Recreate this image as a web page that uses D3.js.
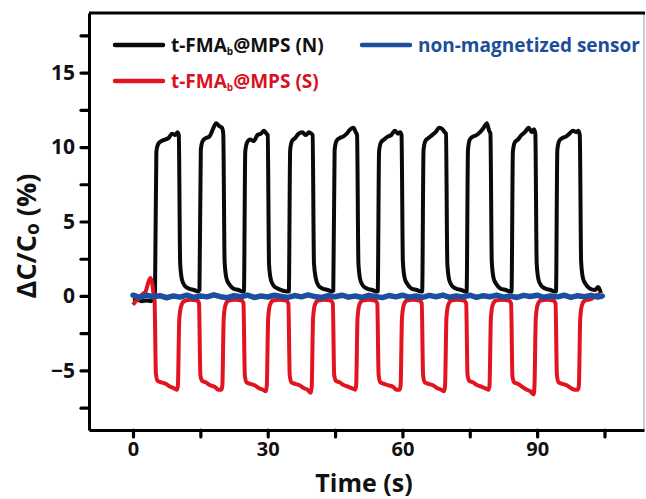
<!DOCTYPE html>
<html>
<head>
<meta charset="utf-8">
<script src="https://cdn.jsdelivr.net/npm/d3@7"></script>
<style>
  html, body { margin: 0; padding: 0; background: #fff; }
  svg { display: block; font-family: "Open Sans", "DejaVu Sans", sans-serif; font-weight: 700; }
</style>
</head>
<body>
<svg id="chart" width="646" height="499"></svg>
<script>
// ΔC/C0 (%) versus time (s) for the three sensors

// t-FMA_b@MPS (N): [time, ΔC/C0]
const seriesN = [
  [0,-0.3],[1,-0.25],[2,-0.35],[3,-0.3],[4,-0.35],[4.6,-0.2],
  [4.9,0.3],[5.2,9.7],[5.6,10.2],[6.3,10.4],[7.1,10.5],[7.9,10.6],[8.7,10.9],[9.4,10.8],[9.9,11.0],[10.2,10.8],[10.5,2.2],[10.9,1.1],[11.5,0.7],[12.4,0.5],[13.6,0.4],[14.5,0.3],
  [14.8,0.4],[15.1,9.8],[15.5,10.4],[16.2,10.6],[17.0,10.7],[17.8,11.2],[18.5,11.6],[19.2,11.4],[19.8,11.3],[20.1,10.9],[20.4,2.3],[20.8,1.2],[21.4,0.8],[22.3,0.5],[23.5,0.4],[24.4,0.3],
  [24.7,0.3],[25.0,9.7],[25.4,10.3],[26.1,10.5],[26.9,10.4],[27.7,10.8],[28.5,10.9],[29.2,11.1],[29.7,10.9],[30.0,10.8],[30.3,2.1],[30.7,1.1],[31.3,0.7],[32.2,0.5],[33.4,0.35],[34.4,0.3],
  [34.7,0.3],[35.0,9.8],[35.4,10.4],[36.1,10.6],[36.9,10.9],[37.7,11.0],[38.5,10.8],[39.2,11.0],[39.7,10.9],[40.0,10.8],[40.3,2.2],[40.7,1.2],[41.3,0.7],[42.2,0.5],[43.4,0.4],[44.3,0.3],
  [44.6,0.35],[44.9,9.8],[45.3,10.4],[46.0,10.6],[46.8,10.7],[47.6,10.9],[48.4,11.2],[49.1,11.3],[49.6,11.0],[49.9,10.8],[50.2,2.2],[50.6,1.1],[51.2,0.7],[52.1,0.5],[53.3,0.4],[54.2,0.3],
  [54.5,0.3],[54.8,9.7],[55.2,10.3],[55.9,10.5],[56.7,10.7],[57.5,10.8],[58.3,11.1],[59.0,10.9],[59.5,11.0],[59.8,10.8],[60.1,2.3],[60.5,1.2],[61.1,0.8],[62.0,0.5],[63.2,0.4],[64.1,0.3],
  [64.4,0.3],[64.7,9.8],[65.1,10.4],[65.8,10.6],[66.6,10.8],[67.4,11.0],[68.2,11.3],[68.9,11.2],[69.4,11.0],[69.7,10.9],[70.0,2.2],[70.4,1.1],[71.0,0.7],[71.9,0.5],[73.1,0.4],[74.0,0.3],
  [74.3,0.3],[74.6,9.8],[75.0,10.5],[75.7,10.7],[76.5,10.8],[77.3,11.0],[78.1,11.3],[78.8,11.6],[79.3,11.1],[79.6,10.9],[79.9,2.3],[80.3,1.2],[80.9,0.8],[81.8,0.5],[83.0,0.4],[84.0,0.3],
  [84.3,0.3],[84.6,9.7],[85.0,10.3],[85.7,10.5],[86.5,10.8],[87.3,11.0],[88.1,11.3],[88.8,11.0],[89.3,11.2],[89.6,10.9],[89.9,2.2],[90.3,1.1],[90.9,0.7],[91.8,0.5],[93.0,0.4],[93.9,0.3],
  [94.2,0.3],[94.5,9.8],[94.9,10.4],[95.6,10.6],[96.4,10.7],[97.2,10.9],[98.0,11.1],[98.7,11.0],[99.2,11.1],[99.5,10.8],[99.8,2.3],[100.2,1.2],[100.8,0.8],[101.7,0.5],[102.9,0.4],[103.6,0.6],[104.2,0.2]
];

// t-FMA_b@MPS (S): [time, ΔC/C0]
const seriesS = [
  [0,-0.6],[0.5,-0.4],[1.2,-0.2],[2.0,0.1],[2.8,0.3],[3.4,0.9],[3.9,1.2],[4.3,0.8],[4.6,0.1],
  [4.8,-0.3],[5.1,-5.2],[5.5,-5.7],[6.3,-5.8],[7.3,-5.9],[8.3,-6.1],[9.1,-6.2],[9.8,-6.3],[10.0,-6.0],[10.3,-1.6],[10.7,-0.7],[11.4,-0.35],[12.8,-0.25],[14.3,-0.3],
  [14.7,-0.5],[15.0,-5.3],[15.4,-5.7],[16.2,-5.8],[17.2,-6.0],[18.2,-6.1],[19.0,-6.3],[19.7,-6.3],[19.9,-6.0],[20.2,-1.5],[20.6,-0.6],[21.3,-0.3],[22.7,-0.25],[24.2,-0.3],
  [24.6,-0.5],[24.9,-5.3],[25.3,-5.8],[26.1,-5.9],[27.1,-6.0],[28.1,-6.2],[28.9,-6.3],[29.6,-6.4],[29.8,-6.0],[30.1,-1.5],[30.5,-0.6],[31.2,-0.3],[32.6,-0.25],[34.1,-0.3],
  [34.6,-0.5],[34.9,-5.3],[35.3,-5.8],[36.1,-5.9],[37.1,-6.0],[38.1,-6.2],[38.9,-6.3],[39.6,-6.5],[39.8,-6.1],[40.1,-1.5],[40.5,-0.6],[41.2,-0.3],[42.6,-0.25],[44.0,-0.3],
  [44.5,-0.5],[44.8,-5.3],[45.2,-5.7],[46.0,-5.8],[47.0,-6.0],[48.0,-6.1],[48.8,-6.2],[49.5,-6.3],[49.7,-6.0],[50.0,-1.5],[50.4,-0.6],[51.1,-0.3],[52.5,-0.25],[53.9,-0.3],
  [54.4,-0.5],[54.7,-5.3],[55.1,-5.8],[55.9,-5.9],[56.9,-6.0],[57.9,-6.1],[58.7,-6.3],[59.4,-6.3],[59.6,-6.0],[59.9,-1.5],[60.3,-0.6],[61.0,-0.3],[62.4,-0.25],[63.8,-0.3],
  [64.3,-0.5],[64.6,-5.3],[65.0,-5.8],[65.8,-5.9],[66.8,-6.0],[67.8,-6.2],[68.6,-6.3],[69.3,-6.4],[69.5,-6.0],[69.8,-1.5],[70.2,-0.6],[70.9,-0.3],[72.3,-0.25],[73.7,-0.3],
  [74.2,-0.5],[74.5,-5.3],[74.9,-5.7],[75.7,-5.8],[76.7,-6.0],[77.7,-6.1],[78.5,-6.2],[79.2,-6.3],[79.4,-6.0],[79.7,-1.5],[80.1,-0.6],[80.8,-0.3],[82.2,-0.25],[83.7,-0.3],
  [84.2,-0.5],[84.5,-5.4],[84.9,-5.8],[85.7,-5.9],[86.7,-6.1],[87.7,-6.3],[88.5,-6.4],[89.2,-6.6],[89.4,-6.1],[89.7,-1.5],[90.1,-0.6],[90.8,-0.3],[92.2,-0.25],[93.6,-0.3],
  [94.1,-0.5],[94.4,-5.3],[94.8,-5.8],[95.6,-5.9],[96.6,-6.0],[97.6,-6.2],[98.4,-6.3],[99.1,-6.3],[99.3,-6.0],[99.6,-1.5],[100.0,-0.6],[100.7,-0.3],[102.1,-0.2],[103.6,0.1],[104.2,-0.1]
];

// non-magnetized sensor: [time, ΔC/C0]
const seriesRef = [
  [0,0.05],[1.5,-0.1],[3,0.05],[4.5,-0.05],[6,0.02],[7.5,-0.12],[9,0.0],[10.5,-0.08],[12,0.05],[13.5,-0.1],
  [15,0.0],[16.5,-0.06],[18,0.08],[19.5,-0.05],[21,-0.12],[22.5,0.02],[24,-0.05],[25.5,0.06],[27,-0.1],[28.5,0.0],
  [30,-0.07],[31.5,0.05],[33,-0.03],[34.5,-0.1],[36,0.03],[37.5,-0.06],[39,0.07],[40.5,-0.04],[42,-0.1],[43.5,0.02],
  [45,-0.05],[46.5,0.05],[48,-0.08],[49.5,0.0],[51,-0.1],[52.5,0.04],[54,-0.04],[55.5,-0.11],[57,0.03],[58.5,-0.06],
  [60,0.05],[61.5,-0.08],[63,0.0],[64.5,-0.1],[66,0.04],[67.5,-0.05],[69,0.06],[70.5,-0.09],[72,0.0],[73.5,-0.06],
  [75,0.05],[76.5,-0.1],[78,0.02],[79.5,-0.05],[81,0.06],[82.5,-0.08],[84,0.0],[85.5,-0.1],[87,0.04],[88.5,-0.04],
  [90,0.05],[91.5,-0.09],[93,0.0],[94.5,-0.06],[96,0.05],[97.5,-0.1],[99,0.02],[100.5,-0.05],[102,0.04],[103.5,-0.07],[104.5,0.0]
];

const legendItems = [
  { name: "t-FMA", sub: "b", tail: "@MPS (N)", color: "#0a0a0a", text: "#111111" },
  { name: "t-FMA", sub: "b", tail: "@MPS (S)", color: "#e1141f", text: "#d8121f" },
  { name: "non-magnetized sensor", sub: "", tail: "", color: "#1c4f9e", text: "#1d4e96" }
];

const xMajorTicks = [0, 30, 60, 90];
const xMinorTicks = [15, 45, 75, 105];
const yMajorTicks = [-5, 0, 5, 10, 15];
const yMinorTicks = [-7.5, -2.5, 2.5, 7.5, 12.5, 17.5];

const xDomain = [-9.8, 113.8];
const yDomain = [-9, 19];

const svg = d3.select("#chart");
const plot = { left: 89, right: 644, top: 13, bottom: 430 };

const x = d3.scaleLinear().domain(xDomain).range([plot.left, plot.right]);
const y = d3.scaleLinear().domain(yDomain).range([plot.bottom, plot.top]);

svg.append("defs").append("clipPath").attr("id", "plotClip")
  .append("rect")
  .attr("x", plot.left).attr("y", plot.top)
  .attr("width", plot.right - plot.left).attr("height", plot.bottom - plot.top);

// data traces
const line = d3.line()
  .x(d => x(d[0]))
  .y(d => y(d[1]))
  .curve(d3.curveMonotoneX);

const traces = svg.append("g").attr("clip-path", "url(#plotClip)");
traces.append("path").datum(seriesN)
  .attr("fill", "none").attr("stroke", legendItems[0].color)
  .attr("stroke-width", 4).attr("stroke-linejoin", "round").attr("d", line);
traces.append("path").datum(seriesS)
  .attr("fill", "none").attr("stroke", legendItems[1].color)
  .attr("stroke-width", 4).attr("stroke-linejoin", "round").attr("d", line);
traces.append("path").datum(seriesRef)
  .attr("fill", "none").attr("stroke", legendItems[2].color)
  .attr("stroke-width", 5.5).attr("stroke-linejoin", "round").attr("stroke-linecap", "round")
  .attr("d", line.curve(d3.curveLinear));

// frame: thin right side, thick top
svg.append("line")
  .attr("x1", plot.right).attr("x2", plot.right)
  .attr("y1", plot.top).attr("y2", plot.bottom)
  .attr("stroke", "#9a9a9a").attr("stroke-width", 1);
svg.append("line")
  .attr("x1", plot.left).attr("x2", plot.right + 1)
  .attr("y1", plot.top).attr("y2", plot.top)
  .attr("stroke", "#000").attr("stroke-width", 3);

// axes
const fmtX = d => xMajorTicks.includes(d) ? d3.format("d")(d) : "";
const fmtY = d => yMajorTicks.includes(d) ? d3.format("d")(d) : "";

const xAxis = svg.append("g")
  .attr("transform", `translate(0,${plot.bottom})`)
  .call(d3.axisBottom(x)
    .tickValues([...xMajorTicks, ...xMinorTicks].sort((a, b) => a - b))
    .tickFormat(fmtX).tickSize(7).tickSizeOuter(0).tickPadding(5));

const yAxis = svg.append("g")
  .attr("transform", `translate(${plot.left},0)`)
  .call(d3.axisLeft(y)
    .tickValues([...yMajorTicks, ...yMinorTicks].sort((a, b) => a - b))
    .tickFormat(fmtY).tickSize(8).tickSizeOuter(0).tickPadding(6));

[xAxis, yAxis].forEach(g => {
  g.select(".domain").attr("stroke", "#000").attr("stroke-width", 3);
  g.selectAll(".tick line").attr("stroke", "#000").attr("stroke-width", 3.2).attr("stroke-linecap", "round");
  g.selectAll(".tick text")
    .attr("fill", "#111")
    .style("font-family", "'Open Sans', sans-serif")
    .style("font-weight", 700)
    .style("font-size", "21px");
});
xAxis.selectAll(".tick text").style("font-size", "20px");

// axis titles
svg.append("text")
  .attr("x", 364).attr("y", 492)
  .attr("text-anchor", "middle")
  .attr("fill", "#111")
  .style("font-size", "25px")
  .text("Time (s)");

const yTitle = svg.append("text")
  .attr("transform", "translate(36,236) rotate(-90)")
  .attr("text-anchor", "middle")
  .attr("fill", "#111")
  .style("font-size", "27px");
yTitle.append("tspan").text("ΔC/C");
yTitle.append("tspan").attr("dy", 3).style("font-size", "19px").text("o");
yTitle.append("tspan").attr("dy", -3).text(" (%)");

// legend
const legendPos = [
  { lx: 115, ly: 45 },
  { lx: 115, ly: 81 },
  { lx: 362, ly: 45 }
];
legendItems.forEach((item, i) => {
  const p = legendPos[i];
  const g = svg.append("g");
  g.append("line")
    .attr("x1", p.lx).attr("x2", p.lx + 48)
    .attr("y1", p.ly).attr("y2", p.ly)
    .attr("stroke", item.color).attr("stroke-width", 4.5).attr("stroke-linecap", "round");
  const t = g.append("text")
    .attr("x", p.lx + 56).attr("y", p.ly + 7)
    .attr("fill", item.text)
    .style("font-size", "19px");
  t.append("tspan").text(item.name);
  if (item.sub) {
    t.append("tspan").attr("dy", 3).style("font-size", "10px").text(item.sub);
    t.append("tspan").attr("dy", -3).text(item.tail);
  }
});
</script>
</body>
</html>
